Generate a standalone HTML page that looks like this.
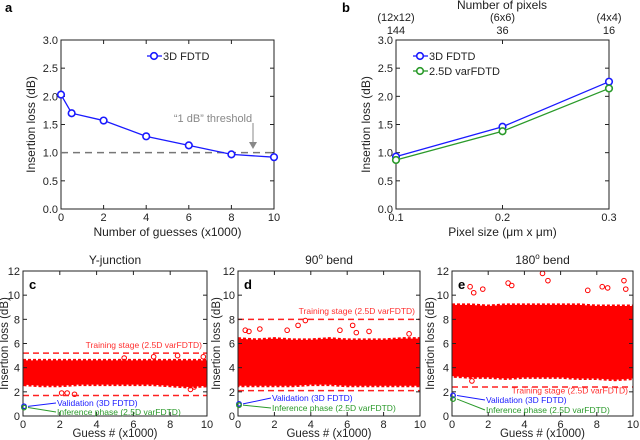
<!DOCTYPE html>
<html><head><meta charset="utf-8"><style>
body{margin:0;background:#fff}
svg{display:block;font-family:"Liberation Sans",sans-serif}
</style></head><body>
<svg id="fig" width="640" height="440" viewBox="0 0 640 440"></svg>
<script>
// Panel a data
const aGuesses=[0,0.5,2,4,6,8,10];
const aLoss=[2.03,1.70,1.57,1.29,1.13,0.97,0.92];
const aTicksY=["0.0","0.5","1.0","1.5","2.0","2.5","3.0"];
const aTicksX=[0,2,4,6,8,10];
// Panel b data
const bPixel=[0.1,0.2,0.3];
const b3D=[0.93,1.46,2.26];
const b25D=[0.87,1.38,2.14];
const bTopPix=["144","36","16"];
const bTopGrid=["(12x12)","(6x6)","(4x4)"];
// Scatter panels: band bounds per 1000-guess bin
const binX=[0,1,2,3,4,5,6,7,8,9,10];
const cLow=[2.6,2.5,2.5,2.6,2.6,2.6,2.6,2.6,2.5,2.4,2.5];
const cHigh=[4.6,4.6,4.6,4.6,4.6,4.6,4.6,4.6,4.6,4.6,4.6];
const dLow=[2.5,2.5,2.5,2.5,2.6,2.6,2.5,2.5,2.5,2.5,2.5];
const dHigh=[6.4,6.3,6.4,6.3,6.3,6.4,6.3,6.3,6.3,6.4,6.4];
const eLow=[3.3,3.2,3.2,3.1,3.2,3.2,3.2,3.1,3.1,3.0,3.1];
const eHigh=[9.2,9.2,9.1,9.2,9.2,9.2,9.2,9.2,9.1,9.1,9.1];
const cOutX=[2.1,2.4,2.8,5.5,7.1,8.4,9.1,9.3,9.8];
const cOutY=[1.9,1.9,1.8,4.8,4.9,5.0,2.2,2.4,4.9];
const dOutX=[0.4,0.6,1.2,2.7,3.3,3.7,5.6,6.3,6.5,7.2,9.4];
const dOutY=[7.1,7.0,7.2,7.1,7.5,7.9,7.1,7.5,6.9,7.0,6.8];
const eOutX=[1.0,1.2,1.7,3.1,3.3,5.0,5.3,7.5,8.3,8.6,9.5,9.6,1.1];
const eOutY=[10.7,10.2,10.5,11.0,10.8,11.8,11.2,10.4,10.7,10.6,11.2,10.5,2.9];
const sTicksY=[0,2,4,6,8,10,12];
const sTicksX=[0,2,4,6,8,10];
const cDash=[5.2,1.7], dDash=[8.0,2.1], eDash=[2.4];
const cVal=[0.8,0.7], dVal=[1.0,0.9], eVal=[1.7,1.4];

const NS="http://www.w3.org/2000/svg";
const svg=document.getElementById('fig');
function el(tag,attrs,parent,txt){const e=document.createElementNS(NS,tag);for(const k in attrs)e.setAttribute(k,attrs[k]);if(txt!==undefined)e.textContent=txt;(parent||svg).appendChild(e);return e;}
function lin(d0,d1,r0,r1){return v=>r0+(v-d0)/(d1-d0)*(r1-r0);}

function frame(g,x0,x1,y0,y1,xs,ys,xt,yt,xl,yl,fs,yOff,xOff,tfs){
  const f=el('rect',{x:x0,y:y0,width:x1-x0,height:y1-y0,fill:'none',stroke:'#222','stroke-width':1},g);
  
  xt.forEach(v=>{const x=xs(v);el('line',{x1:x,x2:x,y1:y1,y2:y1-4,stroke:'#222'},g);el('line',{x1:x,x2:x,y1:y0,y2:y0+4,stroke:'#222'},g);
    const t=el('text',{x:x,y:y1+12,'text-anchor':'middle','font-size':fs,fill:'#222'},g,String(v));});
  yt.forEach(v=>{const y=ys(parseFloat(v));el('line',{x1:x0,x2:x0+4,y1:y,y2:y,stroke:'#222'},g);el('line',{x1:x1,x2:x1-4,y1:y,y2:y,stroke:'#222'},g);
    const t=el('text',{x:x0-3,y:y+4,'text-anchor':'end','font-size':fs,fill:'#222'},g,String(v));});
  const xlab=el('text',{x:(x0+x1)/2,y:y1+xOff,'text-anchor':'middle','font-size':tfs,fill:'#222'},g,xl);
  
  const yc=(y0+y1)/2,yx=x0-yOff;
  const ylab=el('text',{x:yx,y:yc,'text-anchor':'middle','font-size':tfs,fill:'#222',transform:`rotate(-90 ${yx} ${yc})`},g,yl);
  
}
function letter(x,y,s){const t=el('text',{x:x,y:y,'font-size':13,'font-weight':'bold',fill:'#000'},svg,s);}

// ----- Panel a
{const g=el('g',{});
 const xs=lin(0,10,61,274),ys=lin(0,3,209,40);
 frame(g,61,274,40,209,xs,ys,aTicksX,aTicksY,'Number of guesses (x1000)','Insertion loss (dB)',11,26,27,12);
 const th=el('line',{x1:61,x2:274,y1:ys(1),y2:ys(1),stroke:'#777','stroke-width':1.5,'stroke-dasharray':'7,5'},g);
 
 const tt=el('text',{x:213,y:122,'text-anchor':'middle','font-size':11,fill:'#888'},g,'\u201C1 dB\u201D threshold');
 
 el('line',{x1:253,x2:253,y1:123,y2:146,stroke:'#888'},g);el('path',{d:'M249,142 L253,149 L257,142 Z',fill:'#888'},g);
 const pts=aGuesses.map((v,i)=>xs(v)+','+ys(aLoss[i])).join(' ');
 const pl=el('polyline',{points:pts,fill:'none',stroke:'#1a1aff','stroke-width':1.3},g);
 
 aGuesses.forEach((v,i)=>{const c=el('circle',{cx:xs(v),cy:ys(aLoss[i]),r:3.3,fill:'#fff',stroke:'#1a1aff','stroke-width':1.6},g);});
 const lg=el('g',{},g);
 el('line',{x1:147,x2:162,y1:56,y2:56,stroke:'#1a1aff','stroke-width':1.3},lg);el('circle',{cx:154,cy:56,r:3.3,fill:'#fff',stroke:'#1a1aff','stroke-width':1.6},lg);
 el('text',{x:163,y:60,'font-size':11,fill:'#222'},lg,'3D FDTD');
 letter(5,12,'a');}

// ----- Panel b
{const g=el('g',{});
 const xs=lin(0.1,0.3,396,609),ys=lin(0,3,209,40);
 frame(g,396,609,40,209,xs,ys,[],aTicksY,'Pixel size (\u03BCm x \u03BCm)','Insertion loss (dB)',11,26,27,12);
 bPixel.forEach((v,i)=>{const x=xs(v);el('line',{x1:x,x2:x,y1:209,y2:205,stroke:'#222'},g);el('line',{x1:x,x2:x,y1:40,y2:44,stroke:'#222'},g);
  const t=el('text',{x:x,y:221,'text-anchor':'middle','font-size':11,fill:'#222'},g,v.toFixed(1));
  const t2=el('text',{x:x,y:34,'text-anchor':'middle','font-size':11,fill:'#222'},g,bTopPix[i]);
  const t3=el('text',{x:x,y:21,'text-anchor':'middle','font-size':11,fill:'#222'},g,bTopGrid[i]);});
 const tl=el('text',{x:502,y:9,'text-anchor':'middle','font-size':12,fill:'#222'},g,'Number of pixels');
 [[b3D,'#1a1aff','series-3d-fdtd'],[b25D,'#2a9a2a','series-25d-varfdtd']].forEach(([arr,col,nm])=>{
  const pl=el('polyline',{points:bPixel.map((v,i)=>xs(v)+','+ys(arr[i])).join(' '),fill:'none',stroke:col,'stroke-width':1.3},g);
  
  bPixel.forEach((v,i)=>{const c=el('circle',{cx:xs(v),cy:ys(arr[i]),r:3.3,fill:'#fff',stroke:col,'stroke-width':1.6},g);});});
 [['3D FDTD','#1a1aff',56],['2.5D varFDTD','#2a9a2a',71]].forEach(([s,col,y])=>{const lg=el('g',{},g);
  el('line',{x1:413,x2:428,y1:y,y2:y,stroke:col,'stroke-width':1.3},lg);el('circle',{cx:420,cy:y,r:3.3,fill:'#fff',stroke:col,'stroke-width':1.6},lg);
  el('text',{x:429,y:y+4,'font-size':11,fill:'#222'},lg,s);});
 letter(342,12,'b');}

// ----- Scatter panels
function scatter(name,letterS,x0,x1,title,low,high,ox,oy,dash,val,labelAbove,showTitleSup,vY,iY,yOff){
 const g=el('g',{});
 const xs=lin(0,10,x0,x1),ys=lin(0,12,416,271);
 const cp=el('clipPath',{id:'cl'+letterS},g);
 el('rect',{x:x0,y:271,width:x1-x0,height:145},cp);
 const band=el('path',{d:'M'+binX.map((v,i)=>xs(v)+','+ys(high[i])).join(' L')+' L'+binX.slice().reverse().map((v,j)=>xs(v)+','+ys(low[binX.length-1-j])).join(' L')+' Z',fill:'#ff0000',stroke:'#ff0000','stroke-width':3,'stroke-dasharray':'3,2','clip-path':`url(#cl${letterS})`},g);
 
 ox.forEach((v,i)=>{const c=el('circle',{cx:xs(v),cy:ys(oy[i]),r:2.3,fill:'none',stroke:'#ff0000','stroke-width':1},g);});
 dash.forEach(v=>{const l=el('line',{x1:x0,x2:x1,y1:ys(v),y2:ys(v),stroke:'#ff2020','stroke-width':1.5,'stroke-dasharray':'6,4'},g);});
 const tl=el('text',{x:x1-5,y:ys(labelAbove)-3,'text-anchor':'end','font-size':8.5,fill:'#ff3030'},g,'Training stage (2.5D varFDTD)');
 
 frame(g,x0,x1,271,416,xs,ys,sTicksX,sTicksY.map(String),'Guess # (x1000)','Insertion loss (dB)',11,yOff,21,11.5);
 const vb=el('circle',{cx:xs(0)+1,cy:ys(val[0]),r:2.3,fill:'none',stroke:'#1a1aff','stroke-width':1.3},g);
 const vg=el('circle',{cx:xs(0)+1,cy:ys(val[1]),r:2.3,fill:'none',stroke:'#2a9a2a','stroke-width':1.3},g);
 el('line',{x1:x0+33,y1:vY-3,x2:x0+5,y2:ys(val[0]),stroke:'#1a1aff'},g);
 el('line',{x1:x0+33,y1:iY-3,x2:x0+5,y2:ys(val[1]),stroke:'#2a9a2a'},g);
 const t1=el('text',{x:x0+34,y:vY,'font-size':8.5,fill:'#1a1aff'},g,'Validation (3D FDTD)');
 const t2=el('text',{x:x0+34,y:iY,'font-size':8.5,fill:'#2a9a2a'},g,'Inference phase (2.5D varFDTD)');
 const tt=el('text',{x:(x0+x1)/2,y:264,'text-anchor':'middle','font-size':12,fill:'#222'},g);
 if(showTitleSup){tt.appendChild(document.createTextNode(title));el('tspan',{'font-size':8,dy:-5},tt,'o');el('tspan',{dy:5},tt,' bend');}
 else tt.textContent=title;
 const L=el('text',{x:x0+6,y:289,'font-size':13,'font-weight':'bold',fill:'#000'},g,letterS);
}
scatter('panel-c','c',23,207,'Y-junction',cLow,cHigh,cOutX,cOutY,cDash,cVal,5.4,false,406,415,15);
scatter('panel-d','d',238,420,'90',dLow,dHigh,dOutX,dOutY,dDash,dVal,8.2,true,401,411,18);
scatter('panel-e','e',452,633,'180',eLow,eHigh,eOutX,eOutY,eDash,eVal,1.6,true,403,413,18);
</script>
</body></html>
